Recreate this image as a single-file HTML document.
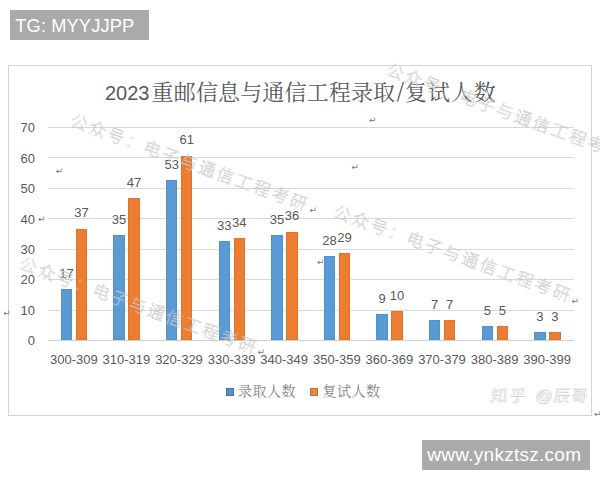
<!DOCTYPE html>
<html><head><meta charset="utf-8"><style>
*{margin:0;padding:0;box-sizing:border-box}
html,body{width:600px;height:480px;background:#fff;overflow:hidden}
body{position:relative;font-family:"Liberation Sans","Noto Sans CJK SC",sans-serif}
.abs{position:absolute}
.tg{position:absolute;left:10px;top:10px;width:139px;height:30px;background:#aaaaaa;color:#fff;font-size:18.3px;line-height:32px;padding-left:5.3px;letter-spacing:0.1px;white-space:nowrap}
.url{position:absolute;left:422px;top:440px;width:168px;height:30px;background:#aaaaaa;color:#fff;font-size:19px;line-height:29px;padding-left:5.3px;letter-spacing:0.27px;white-space:nowrap}
.frame{position:absolute;left:8px;top:65px;width:584px;height:351px;border:1.5px solid #d4d4d4}
.gl{position:absolute;left:48px;width:525.5px;height:1px}
.yl{position:absolute;left:0;width:35px;text-align:right;font-size:13px;line-height:16px;color:#595959}
.bar{position:absolute;box-shadow:inset 0 0 0 0.6px rgba(0,0,0,0.12)}
.dl{position:absolute;width:40px;text-align:center;font-size:13px;line-height:16px;color:#595959}
.cl{position:absolute;top:352px;width:60px;text-align:center;font-size:13px;line-height:16px;color:#595959}
.title{position:absolute;top:78px;white-space:nowrap;color:#595959;line-height:30px}
.title .n{font-family:"Liberation Sans",sans-serif;font-size:20px}
.title .c{font-family:"Liberation Serif","Noto Serif CJK SC",serif;font-size:22px;letter-spacing:0.15px}
.title .s{font-family:"Noto Sans CJK SC",sans-serif;font-weight:400;font-size:20px}
.leg{position:absolute;top:382px;font-family:"Liberation Serif","Noto Serif CJK SC",serif;font-size:14px;line-height:20px;letter-spacing:0.5px;color:#6e6e6e;font-weight:300;white-space:nowrap}
.sq{position:absolute;width:7.8px;height:7.8px;top:387.9px;box-shadow:inset 0 0 0 0.8px rgba(0,0,0,0.22)}
.wm{position:absolute;white-space:nowrap;font-family:"Liberation Sans","Noto Sans CJK SC",sans-serif;font-size:17px;line-height:30px;letter-spacing:2.40px;font-weight:300;color:transparent;-webkit-text-stroke:0.45px #c8c8c8;transform-origin:0 50%;transform:rotate(19.9deg)}
.zh{position:absolute;top:382px;font-family:"Liberation Sans","Noto Sans CJK SC",sans-serif;font-size:16.5px;line-height:26px;font-weight:300;color:#f6f6f6;transform:skewX(-7deg);transform-origin:0 100%;text-shadow:-0.5px -0.5px 0 #c4c4c4,0.6px 0.6px 0 #d2d2d2;white-space:nowrap}
.ret{position:absolute;font-size:9px;line-height:12px;color:#777;font-family:"DejaVu Sans",sans-serif}
</style></head><body>
<div class="tg">TG: MYYJJPP</div>
<div class="frame"></div>
<div class="title" style="left:105px"><span class="n">2023</span></div>
<div class="title" style="left:151.6px"><span class="c">重邮信息与通信工程录取</span></div>
<div class="title" style="left:396.5px;top:75px"><span class="s">/</span></div>
<div class="title" style="left:405px"><span class="c" style="letter-spacing:0.9px">复试人数</span></div>
<div class="gl" style="top:340.00px;background:#d0d0d0"></div><div class="yl" style="top:333.30px">0</div><div class="gl" style="top:309.57px;background:#d9d9d9"></div><div class="yl" style="top:302.87px">10</div><div class="gl" style="top:279.14px;background:#d9d9d9"></div><div class="yl" style="top:272.44px">20</div><div class="gl" style="top:248.71px;background:#d9d9d9"></div><div class="yl" style="top:242.01px">30</div><div class="gl" style="top:218.28px;background:#d9d9d9"></div><div class="yl" style="top:211.58px">40</div><div class="gl" style="top:187.85px;background:#d9d9d9"></div><div class="yl" style="top:181.15px">50</div><div class="gl" style="top:157.42px;background:#d9d9d9"></div><div class="yl" style="top:150.72px">60</div><div class="gl" style="top:126.99px;background:#d9d9d9"></div><div class="yl" style="top:120.29px">70</div><div class="bar" style="left:60.70px;top:289.47px;width:11.60px;height:50.53px;background:#5b9bd5"></div><div class="dl" style="left:46.50px;top:266.27px">17</div><div class="bar" style="left:75.70px;top:228.61px;width:11.60px;height:111.39px;background:#ed7d31"></div><div class="dl" style="left:61.50px;top:205.41px">37</div><div class="cl" style="left:43.80px">300-309</div><div class="bar" style="left:113.30px;top:234.69px;width:11.60px;height:105.31px;background:#5b9bd5"></div><div class="dl" style="left:99.10px;top:211.50px">35</div><div class="bar" style="left:128.30px;top:198.18px;width:11.60px;height:141.82px;background:#ed7d31"></div><div class="dl" style="left:114.10px;top:174.98px">47</div><div class="cl" style="left:96.40px">310-319</div><div class="bar" style="left:165.90px;top:179.92px;width:11.60px;height:160.08px;background:#5b9bd5"></div><div class="dl" style="left:151.70px;top:156.72px">53</div><div class="bar" style="left:180.90px;top:155.58px;width:11.60px;height:184.42px;background:#ed7d31"></div><div class="dl" style="left:166.70px;top:132.38px">61</div><div class="cl" style="left:149.00px">320-329</div><div class="bar" style="left:218.50px;top:240.78px;width:11.60px;height:99.22px;background:#5b9bd5"></div><div class="dl" style="left:204.30px;top:217.58px">33</div><div class="bar" style="left:233.50px;top:237.74px;width:11.60px;height:102.26px;background:#ed7d31"></div><div class="dl" style="left:219.30px;top:214.54px">34</div><div class="cl" style="left:201.60px">330-339</div><div class="bar" style="left:271.10px;top:234.69px;width:11.60px;height:105.31px;background:#5b9bd5"></div><div class="dl" style="left:256.90px;top:211.50px">35</div><div class="bar" style="left:286.10px;top:231.65px;width:11.60px;height:108.35px;background:#ed7d31"></div><div class="dl" style="left:271.90px;top:208.45px">36</div><div class="cl" style="left:254.20px">340-349</div><div class="bar" style="left:323.70px;top:256.00px;width:11.60px;height:84.00px;background:#5b9bd5"></div><div class="dl" style="left:309.50px;top:232.80px">28</div><div class="bar" style="left:338.70px;top:252.95px;width:11.60px;height:87.05px;background:#ed7d31"></div><div class="dl" style="left:324.50px;top:229.75px">29</div><div class="cl" style="left:306.80px">350-359</div><div class="bar" style="left:376.30px;top:313.81px;width:11.60px;height:26.19px;background:#5b9bd5"></div><div class="dl" style="left:362.10px;top:290.61px">9</div><div class="bar" style="left:391.30px;top:310.77px;width:11.60px;height:29.23px;background:#ed7d31"></div><div class="dl" style="left:377.10px;top:287.57px">10</div><div class="cl" style="left:359.40px">360-369</div><div class="bar" style="left:428.90px;top:319.90px;width:11.60px;height:20.10px;background:#5b9bd5"></div><div class="dl" style="left:414.70px;top:296.70px">7</div><div class="bar" style="left:443.90px;top:319.90px;width:11.60px;height:20.10px;background:#ed7d31"></div><div class="dl" style="left:429.70px;top:296.70px">7</div><div class="cl" style="left:412.00px">370-379</div><div class="bar" style="left:481.50px;top:325.99px;width:11.60px;height:14.01px;background:#5b9bd5"></div><div class="dl" style="left:467.30px;top:302.79px">5</div><div class="bar" style="left:496.50px;top:325.99px;width:11.60px;height:14.01px;background:#ed7d31"></div><div class="dl" style="left:482.30px;top:302.79px">5</div><div class="cl" style="left:464.60px">380-389</div><div class="bar" style="left:534.10px;top:332.07px;width:11.60px;height:7.93px;background:#5b9bd5"></div><div class="dl" style="left:519.90px;top:308.87px">3</div><div class="bar" style="left:549.10px;top:332.07px;width:11.60px;height:7.93px;background:#ed7d31"></div><div class="dl" style="left:534.90px;top:308.87px">3</div><div class="cl" style="left:517.20px">390-399</div>
<div class="sq" style="left:226.1px;background:#5a90c2"></div>
<div class="leg" style="left:238px">录取人数</div>
<div class="sq" style="left:310.1px;background:#e2894a"></div>
<div class="leg" style="left:322.5px">复试人数</div>
<div class="zh" style="left:488.5px;letter-spacing:2px">知乎</div><div class="zh" style="left:534px;letter-spacing:1px">@辰哥</div>
<div class="wm" style="left:387.20px;top:55.00px">公众号：电子与通信工程考研</div><div class="wm" style="left:71.10px;top:106.20px">公众号：电子与通信工程考研</div><div class="wm" style="left:333.60px;top:197.20px">公众号：电子与通信工程考研</div><div class="wm" style="left:19.50px;top:248.80px">公众号：电子与通信工程考研</div>
<div class="ret" style="left:369.0px;top:113.5px">↵</div><div class="ret" style="left:351.4px;top:160.8px">↵</div><div class="ret" style="left:55.7px;top:165.0px">↵</div><div class="ret" style="left:38.0px;top:212.5px">↵</div><div class="ret" style="left:309.5px;top:204.0px">↵</div><div class="ret" style="left:3.2px;top:307.3px">↵</div><div class="ret" style="left:257.6px;top:345.6px">↵</div><div class="ret" style="left:317.0px;top:256.3px">↵</div><div class="ret" style="left:571.6px;top:294.6px">↵</div><div class="ret" style="left:594.0px;top:408.0px">↵</div>
<div class="url">www.ynkztsz.com</div>
</body></html>
